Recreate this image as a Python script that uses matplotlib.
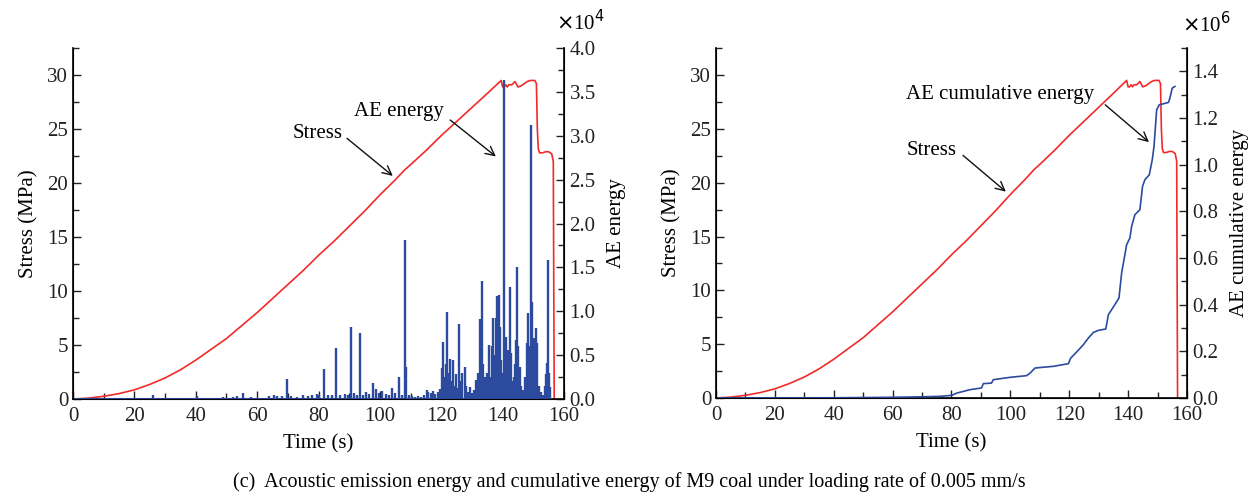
import matplotlib
matplotlib.use("Agg")
import matplotlib.pyplot as plt
from matplotlib.ticker import MultipleLocator, FuncFormatter

plt.rcParams['font.family'] = ['Liberation Serif', 'DejaVu Serif']
plt.rcParams['font.size'] = 15

# ---------------- data ----------------
stress_time = [0, 5, 10, 15, 20, 25, 30, 35, 40, 45, 50, 55, 60, 65, 70, 75, 80,
               85, 90, 95, 100, 105, 108, 110, 115, 120, 125, 130, 135, 139.5,
               140, 140.5, 141, 141.5, 142, 143, 144, 145, 146, 147, 148, 149,
               150.5, 151, 151.3, 151.6, 152, 153, 154, 155, 156, 156.5, 156.8]
stress_mpa = [0, 0.08, 0.25, 0.5, 0.85, 1.35, 1.95, 2.7, 3.6, 4.6, 5.6, 6.8, 8.0,
              9.3, 10.6, 11.9, 13.3, 14.6, 16.0, 17.4, 18.9, 20.3, 21.2, 21.7,
              23.0, 24.4, 25.7, 27.0, 28.3, 29.5,
              28.9, 28.9, 29.1, 28.9, 29.1, 29.1, 29.4, 28.9, 29.0, 29.2, 29.4,
              29.5, 29.5, 29.2, 25.0, 23.2, 22.8, 22.8, 22.9, 22.9, 22.7, 22.0, 0]

ae_time = [2, 8, 14, 20, 26.2, 30, 35, 40.5, 44, 49, 52, 53.5, 55.3, 58, 61, 64,
           65.5, 66.5, 68, 69.6, 71, 73, 75, 76.5, 78, 79.5, 80.3, 81.8, 83, 84.5,
           85.7, 87, 88.5, 89.5, 90.5, 91.5, 92.5, 93.5, 94.5, 95.5, 96.5, 97.9,
           98.8, 99.8, 100.8, 102, 103, 104.1, 105, 106.2, 107.3, 108.2, 108.6,
           109.5, 110.5, 111.5, 112.5, 113.5, 114.5, 115.2, 115.8, 116.5, 117.2,
           118, 118.8, 119.6, 120.1, 120.5, 121, 121.5, 121.9, 122.4, 122.8, 123.4,
           123.9, 124.4, 124.9, 125.3, 125.7, 126.2, 126.9, 127.6, 128.2, 128.8,
           129.4, 130, 130.6, 131.4, 132, 132.7, 133.2, 133.7, 134.2, 134.8, 135.4,
           135.9, 136.5, 137, 137.4, 137.8, 138.3, 138.7, 139.1, 139.5, 140,
           140.6, 141.2, 141.7, 142.3, 142.8, 143.2, 143.6, 144.1, 144.4, 144.7,
           145.1, 145.6, 146.1, 146.7, 147.3, 147.8, 148.4, 148.8, 149.1, 149.6,
           150.1, 150.5, 150.9, 151.3, 151.8, 152.5, 153.2, 153.8, 154.1, 154.5,
           154.8, 155.1, 155.4]
ae_energy = [100, 150, 120, 100, 400, 150, 120, 350, 150, 250, 200, 300, 700, 200,
             150, 300, 400, 350, 300, 2300, 300, 250, 500, 300, 400, 600, 500, 3400,
             400, 500, 5850, 400, 600, 500, 8200, 700, 400, 7500, 500, 800, 600,
             1800, 1100, 700, 900, 600, 500, 1300, 700, 2500, 500, 18100, 3700,
             400, 300, 200, 300, 250, 400, 1000, 800, 700, 900, 600, 800, 1100,
             3500, 6500, 2500, 4000, 9900, 3000, 4600, 2000, 4500, 1500, 2800, 1200,
             8500, 2000, 3000, 3700, 1500, 800, 1400, 700, 1000, 2200, 3000, 9100,
             13500, 4000, 2500, 3000, 6100, 2500, 6000, 9200, 5000, 9200, 11700,
             11900, 8200, 4500, 3000, 36400, 7100, 5600, 12800, 5200, 2000, 2500,
             4000, 6700, 15000, 6000, 3700, 1500, 1000, 2500, 6400, 9800, 6000,
             31200, 11100, 7000, 4000, 8100, 6400, 1500, 800, 500, 1500, 2900, 4100,
             15900, 3000, 1400]

cum_time = [0, 20, 40, 50, 60, 70, 76.1, 80.1, 81.8, 86.3, 90.2, 90.8, 93.6, 94.2,
            99.9, 105.5, 106.7, 108.4, 114.6, 119.7, 120.5, 122.5, 124.8, 126.5,
            128.2, 129.9, 132.4, 133.3, 134.4, 136.9, 137.8, 138.6, 139.5, 140.6,
            141.2, 142.3, 144.0, 144.9, 145.7, 147.2, 148.2, 148.8, 149.7, 150.6,
            153.7, 154.2, 155.0, 155.9]
cum_energy = [0, 500, 1000, 2000, 3000, 5000, 7100, 11400, 21000, 35700, 43000,
              61400, 64000, 78600, 88600, 95700, 107000, 128600, 135700, 147000,
              171000, 197000, 228600, 257000, 281000, 290000, 295700, 357000,
              378600, 428600, 535700, 592900, 657000, 685700, 735700, 785700,
              807100, 907000, 935700, 957000, 1021400, 1078600, 1235700, 1257000,
              1267000, 1285700, 1328600, 1335700]

caption = "(c)  Acoustic emission energy and cumulative energy of M9 coal under loading rate of 0.005 mm/s"

RED = '#f22a2a'
BLUE = '#2c4b9e'
FS = 15

fig = plt.figure(figsize=(12.59, 5.01), dpi=100)
axL = fig.add_axes([0.058, 0.2036, 0.390, 0.7004])
axR = fig.add_axes([0.5687, 0.2056, 0.3741, 0.6984])


def style_axes(ax, tw):
    ax.set_xlim(0, 160)
    ax.set_ylim(0, 32.5)
    ax.xaxis.set_major_locator(MultipleLocator(20))
    ax.xaxis.set_minor_locator(MultipleLocator(10))
    ax.yaxis.set_major_locator(MultipleLocator(5))
    ax.yaxis.set_minor_locator(MultipleLocator(2.5))
    ax.tick_params(which='both', direction='in', top=False, right=False,
                   labelsize=FS, width=1, colors='#222222')
    ax.tick_params(axis='x', which='major', pad=6)
    ax.tick_params(which='major', length=6)
    ax.tick_params(which='minor', length=4)
    ax.spines['top'].set_visible(False)
    tw.spines['top'].set_visible(False)
    for s in ['left', 'bottom']:
        ax.spines[s].set_linewidth(1.2)
    tw.spines['right'].set_linewidth(1.2)
    tw.tick_params(which='both', direction='in', labelsize=FS, width=1, colors='#222222')
    tw.tick_params(which='major', length=6, pad=4)
    tw.tick_params(which='minor', length=4)
    ax.set_xlabel('Time (s)', fontsize=FS, labelpad=6)
    ax.set_ylabel('Stress (MPa)', fontsize=FS, labelpad=6)


# ---------------- left panel ----------------
twL = axL.twinx()
axL.plot(stress_time, stress_mpa, color=RED, lw=1.2)
twL.vlines(ae_time, 0, ae_energy, color=BLUE, lw=1.7)
twL.plot([0, 155.5], [0, 0], color=BLUE, lw=1.5)
twL.set_ylim(0, 4e4)
twL.yaxis.set_major_locator(MultipleLocator(5000))
twL.yaxis.set_minor_locator(MultipleLocator(2500))
twL.yaxis.set_major_formatter(FuncFormatter(lambda v, p: f"{v/1e4:.1f}"))
twL.set_ylabel('AE energy', fontsize=FS, labelpad=8)
style_axes(axL, twL)
fig.text(0.4415, 0.955, r'$\times$10$^{4}$', fontsize=FS, ha='left', va='center')

axL.text(88.0, 24.6, 'Stress', ha='right', va='center', fontsize=FS)
axL.annotate('', xy=(104.9, 20.5), xytext=(88.6, 24.3),
             arrowprops=dict(arrowstyle='->', color='#111111', lw=1.0,
                             mutation_scale=16))
axL.text(106.2, 26.6, 'AE energy', ha='center', va='center', fontsize=FS)
axL.annotate('', xy=(138.5, 22.3), xytext=(122.2, 26.0),
             arrowprops=dict(arrowstyle='->', color='#111111', lw=1.0,
                             mutation_scale=16))

# ---------------- right panel ----------------
twR = axR.twinx()
axR.plot(stress_time, stress_mpa, color=RED, lw=1.2)
twR.plot(cum_time, cum_energy, color=BLUE, lw=1.2)
twR.set_ylim(0, 1.5e6)
twR.yaxis.set_major_locator(MultipleLocator(2e5))
twR.yaxis.set_minor_locator(MultipleLocator(1e5))
twR.yaxis.set_major_formatter(FuncFormatter(lambda v, p: f"{v/1e6:.1f}"))
twR.set_ylabel('AE cumulative energy', fontsize=FS, labelpad=8)
style_axes(axR, twR)
fig.text(0.9385, 0.950, r'$\times$10$^{6}$', fontsize=FS, ha='left', va='center')

axR.text(96.6, 28.2, 'AE cumulative energy', ha='center', va='center', fontsize=FS)
axR.annotate('', xy=(147.8, 23.6), xytext=(131.5, 27.4),
             arrowprops=dict(arrowstyle='->', color='#111111', lw=1.0,
                             mutation_scale=16))
axR.text(81.9, 23.0, 'Stress', ha='right', va='center', fontsize=FS)
axR.annotate('', xy=(99.2, 19.0), xytext=(83.2, 22.7),
             arrowprops=dict(arrowstyle='->', color='#111111', lw=1.0,
                             mutation_scale=16))

fig.text(0.5, 0.038, caption, ha='center', va='center', fontsize=14.5)

fig.savefig('out.png', dpi=100)
